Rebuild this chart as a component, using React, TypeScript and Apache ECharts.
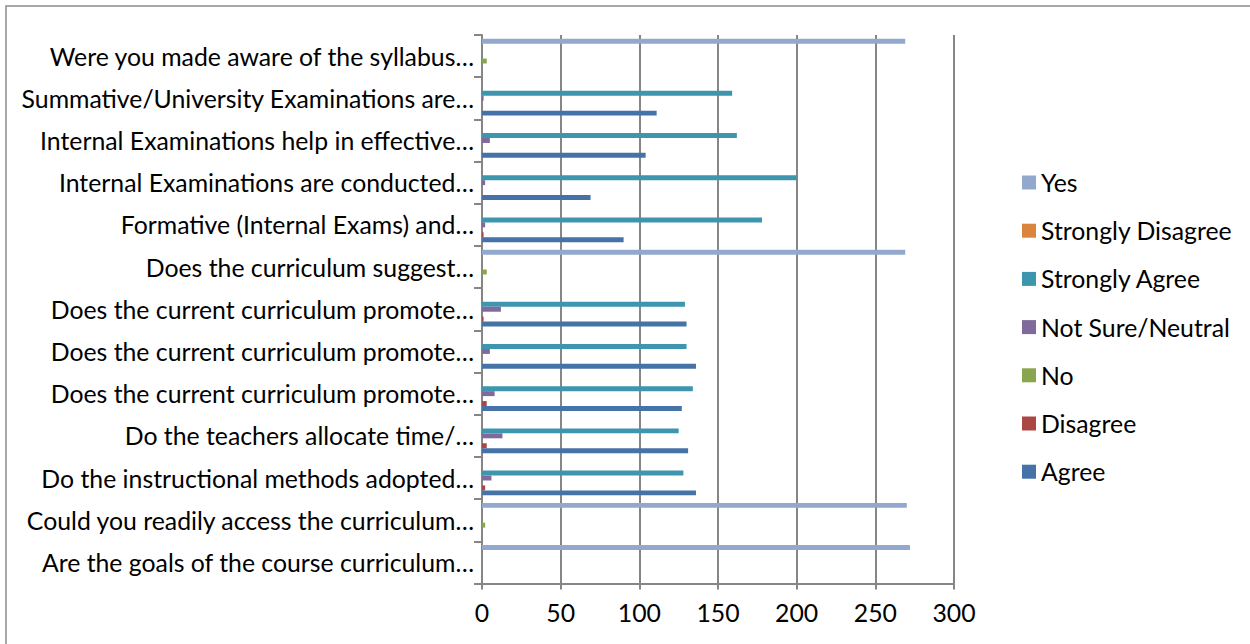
import React, { useEffect, useRef } from "react";
import * as echarts from "echarts";

const categories = [
  "Are the goals of the course curriculum…",
  "Could you readily access the curriculum…",
  "Do the instructional methods adopted…",
  "Do the teachers allocate time/…",
  "Does the current curriculum promote…",
  "Does the current curriculum promote…",
  "Does the current curriculum promote…",
  "Does the curriculum suggest…",
  "Formative (Internal Exams) and…",
  "Internal Examinations are conducted…",
  "Internal Examinations help in effective…",
  "Summative/University Examinations are…",
  "Were you made aware of the syllabus…",
];

const agree = [null, null, 136, 131, 127, 136, 130, null, 90, 69, 104, 111, null];
const disagree = [null, null, 2, 3, 3, 0, 1, null, 1, 0, 0, 0, null];
const no = [0, 2, null, null, null, null, null, 3, null, null, null, null, 3];
const notSure = [null, null, 6, 13, 8, 5, 12, null, 2, 2, 5, 1, null];
const stronglyAgree = [null, null, 128, 125, 134, 130, 129, null, 178, 200, 162, 159, null];
const stronglyDisagree = [null, null, 0, 0, 0, 0, 0, null, 0, 0, 0, 0, null];
const yes = [272, 270, null, null, null, null, null, 269, null, null, null, null, 269];

const seriesNames = ["Agree", "Disagree", "No", "Not Sure/Neutral", "Strongly Agree", "Strongly Disagree", "Yes"];
const seriesValues = [agree, disagree, no, notSure, stronglyAgree, stronglyDisagree, yes];
const seriesColors = ["#4572A7", "#AA4643", "#89A54E", "#80699B", "#3D96AE", "#DB843D", "#92A8CD"];

const xTicks = { min: 0, max: 300, interval: 50 };

const FONT = "Lato";
const FS = 24.8;
const GRID_COLOR = "#868686";

export default function App() {
  const ref = useRef<HTMLDivElement>(null);
  useEffect(() => {
    if (!ref.current) return;
    const chart = echarts.init(ref.current, null, { renderer: "svg" });
    const order = seriesNames.map((_, i) => i).reverse();
    chart.setOption({
      animation: false,
      backgroundColor: "#ffffff",
      textStyle: { fontFamily: FONT },
      graphic: [
        {
          type: "rect",
          shape: { x: 6, y: 6, width: 1270, height: 670 },
          style: { fill: "none", stroke: "#8c8c8c", lineWidth: 1.5 },
          silent: true,
        },
      ],
      grid: { left: 482, top: 35, width: 472, height: 548.5, containLabel: false },
      legend: {
        orient: "vertical",
        left: 1017,
        top: 165,
        data: [...seriesNames].reverse(),
        icon: "rect",
        itemWidth: 14,
        itemHeight: 14,
        itemGap: 23.2,
        textStyle: { fontFamily: FONT, fontSize: FS, color: "#000" },
      },
      xAxis: {
        type: "value",
        min: xTicks.min,
        max: xTicks.max,
        interval: xTicks.interval,
        axisLine: { show: true, lineStyle: { color: GRID_COLOR, width: 2 } },
        axisTick: { show: true, length: 6, lineStyle: { color: GRID_COLOR, width: 2 } },
        splitLine: { show: true, lineStyle: { color: GRID_COLOR, width: 2 } },
        axisLabel: { fontFamily: FONT, fontSize: FS, color: "#000", margin: 16 },
      },
      yAxis: {
        type: "category",
        data: categories,
        axisLine: { show: true, lineStyle: { color: GRID_COLOR, width: 2 } },
        axisTick: { show: true, length: 8, alignWithLabel: false, lineStyle: { color: GRID_COLOR, width: 2 } },
        axisLabel: { fontFamily: FONT, fontSize: FS, color: "#000", margin: 8, interval: 0 },
        splitLine: { show: false },
      },
      series: order.map((i) => ({
        name: seriesNames[i],
        type: "bar",
        data: seriesValues[i],
        barGap: "0%",
        barCategoryGap: "18%",
        itemStyle: { color: seriesColors[i] },
      })),
    });
    return () => chart.dispose();
  }, []);
  return (
    <div
      ref={ref}
      style={{ position: "absolute", left: 0, top: 0, width: 1250, height: 644 }}
    />
  );
}
